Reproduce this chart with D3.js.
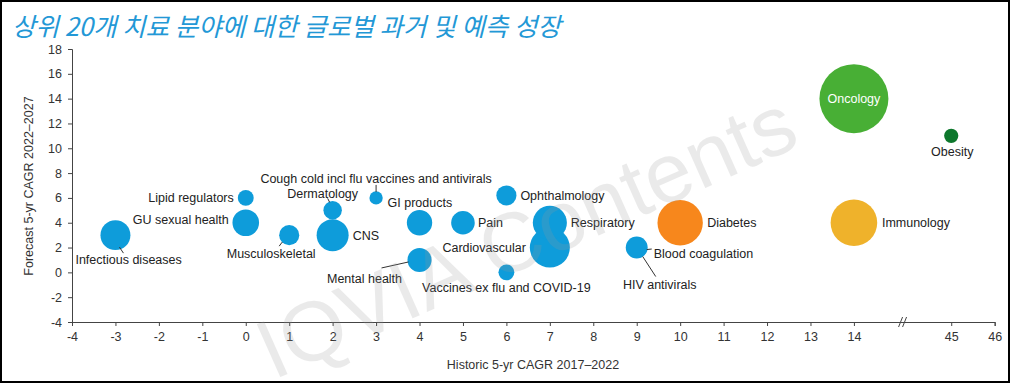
<!DOCTYPE html>
<html>
<head>
<meta charset="utf-8">
<title>상위 20개 치료 분야</title>
<script src="https://cdn.jsdelivr.net/npm/d3@7"></script>
<style>
body{margin:0;background:#fff;}
text{font-family:"Liberation Sans",Arial,sans-serif;}
</style>
</head>
<body>
<script>
// data
var categories = ["HIV antivirals","Infectious diseases","GU sexual health","Lipid regulators","Musculoskeletal",
  "Dermatology","CNS","Cough cold incl flu vaccines and antivirals","GI products","Mental health","Pain",
  "Ophthalmology","Vaccines ex flu and COVID-19","Cardiovascular","Respiratory","Blood coagulation",
  "Diabetes","Oncology","Immunology","Obesity"];
var historic = [9,-3,0,0,1, 2,2,3,4,4,5, 6,6,7,7,9, 10,14,14,45];
var forecast = [2,3,4,6,3, 5,3,6,4,1,4, 6.2,0,2,4,2, 4,14,4,11];
var spending = [28,71,56,20,32, 27,81,14,51,46,44, 32,20,127,92,38, 163,377,172,16];
var xTicks = [-4,-3,-2,-1,0,1,2,3,4,5,6,7,8,9,10,11,12,13,14,45,46];
var yTicks = [-4,-2,0,2,4,6,8,10,12,14,16,18];

var title = "상위 20개 치료 분야에 대한 글로벌 과거 및 예측 성장";
var xTitle = "Historic 5-yr CAGR 2017–2022";
var yTitle = "Forecast 5-yr CAGR 2022–2027";

var width = 1013, height = 384;
var mLeft = 72, mTop = 49, mBottom = 322, unit = 43.44;

var colors = {"Diabetes":"#F7871C","Oncology":"#48AF35","Immunology":"#EFB22B","Obesity":"#0D772C"};
// label placement: [dx, dy, anchor, leader]
var place = {
  "Infectious diseases":[-40,24,"start",[4,12,8,18]],
  "GU sexual health":[-17,-3,"end"],
  "Lipid regulators":[-12,0,"end"],
  "Musculoskeletal":[-18,18,"middle",[-7,7,-10,11]],
  "Dermatology":[-10,-17,"middle",[-5,-12,-3,-8]],
  "CNS":[20,0,"start"],
  "Cough cold incl flu vaccines and antivirals":[0,-19,"middle",[0,-13,0,-6]],
  "GI products":[-32,-20,"start"],
  "Mental health":[-55,19,"middle",[-38,8,-11,2]],
  "Pain":[15,0,"start"],
  "Ophthalmology":[14,0,"start"],
  "Vaccines ex flu and COVID-19":[0,15,"middle"],
  "Cardiovascular":[-24,0,"end"],
  "Respiratory":[21,0,"start"],
  "Blood coagulation":[17,6,"start",[10,2,15,1.5]],
  "HIV antivirals":[23,37,"middle",[6,9,19,29]],
  "Diabetes":[27,0,"start"],
  "Oncology":[0,0,"middle"],
  "Immunology":[28,0,"start"],
  "Obesity":[1,16,"middle"]
};

var data = categories.map(function(c,i){
  return {name:c, x:historic[i], y:forecast[i], v:spending[i]};
});

var x = d3.scaleLinear()
  .domain([-4,14,45,46])
  .range([mLeft, mLeft+18*unit, mLeft+20.24*unit, mLeft+21.24*unit]);
var y = d3.scaleLinear().domain([-4,18]).range([mBottom, mTop]);
var r = d3.scaleSqrt().domain([0,377]).range([0,34.5]);

var svg = d3.select("body").append("svg")
  .attr("width",width).attr("height",height);

svg.append("text")
  .attr("x",12).attr("y",36)
  .style("font-family","'Noto Sans CJK KR',sans-serif")
  .style("font-style","italic")
  .style("font-size","25.5px")
  .attr("fill","#2398D6")
  .text(title);

// axes
var fmt = function(d){return String(d);};
var xAxis = d3.axisBottom(x).tickValues(xTicks).tickFormat(fmt).tickSize(4).tickPadding(6);
var yAxis = d3.axisLeft(y).tickValues(yTicks).tickFormat(fmt).tickSize(4).tickPadding(6);

var gx = svg.append("g").attr("transform","translate(0,"+mBottom+")").call(xAxis);
var gy = svg.append("g").attr("transform","translate("+mLeft+",0)").call(yAxis);
[gx,gy].forEach(function(g){
  g.selectAll(".domain").attr("stroke","#444");
  g.selectAll(".tick line").attr("stroke","#444");
  g.selectAll("text").attr("fill","#333").style("font-size","12.5px")
    .style("font-family","'Liberation Sans',Arial,sans-serif");
});

// axis break
var bx = (x(14)+x(45))/2;
[-3,1].forEach(function(o){
  svg.append("line")
    .attr("x1",bx+o-1).attr("y1",mBottom+5)
    .attr("x2",bx+o+3).attr("y2",mBottom-5)
    .attr("stroke","#444").attr("stroke-width",1);
});

svg.append("text")
  .attr("x",533).attr("y",369)
  .attr("text-anchor","middle")
  .style("font-size","12.5px").attr("fill","#333")
  .text(xTitle);

svg.append("text")
  .attr("transform","translate(33,186) rotate(-90)")
  .attr("text-anchor","middle")
  .style("font-size","12.5px").attr("fill","#333")
  .text(yTitle);

// bubbles
svg.selectAll("circle.b")
  .data(data).enter()
  .append("circle").attr("class","b")
  .attr("cx",function(d){return x(d.x);})
  .attr("cy",function(d){return y(d.y);})
  .attr("r",function(d){return r(d.v);})
  .attr("fill",function(d){return colors[d.name]||"#0E9CDA";});

// leaders
data.forEach(function(d){
  var p = place[d.name];
  if(p && p[3]){
    svg.append("line")
      .attr("x1",x(d.x)+p[3][0]).attr("y1",y(d.y)+p[3][1])
      .attr("x2",x(d.x)+p[3][2]).attr("y2",y(d.y)+p[3][3])
      .attr("stroke","#333").attr("stroke-width",1);
  }
});

svg.selectAll("text.lab")
  .data(data).enter()
  .append("text").attr("class","lab")
  .attr("x",function(d){return x(d.x)+place[d.name][0];})
  .attr("y",function(d){return y(d.y)+place[d.name][1];})
  .attr("dy","0.36em")
  .attr("text-anchor",function(d){return place[d.name][2];})
  .style("font-size","12.5px")
  .attr("fill",function(d){return d.name=="Oncology"?"#fff":"#222";})
  .text(function(d){return d.name;});

// watermark
svg.append("text")
  .attr("transform","translate(526,236) rotate(-24)")
  .attr("text-anchor","middle")
  .attr("dominant-baseline","central")
  .style("font-size","84px")
  .attr("fill","#999").attr("opacity",0.2)
  .text("IQVIA Contents");

// frame
svg.append("rect")
  .attr("x",1).attr("y",1).attr("width",1008).attr("height",381)
  .attr("fill","none").attr("stroke","#000").attr("stroke-width",2);
</script>
</body>
</html>
